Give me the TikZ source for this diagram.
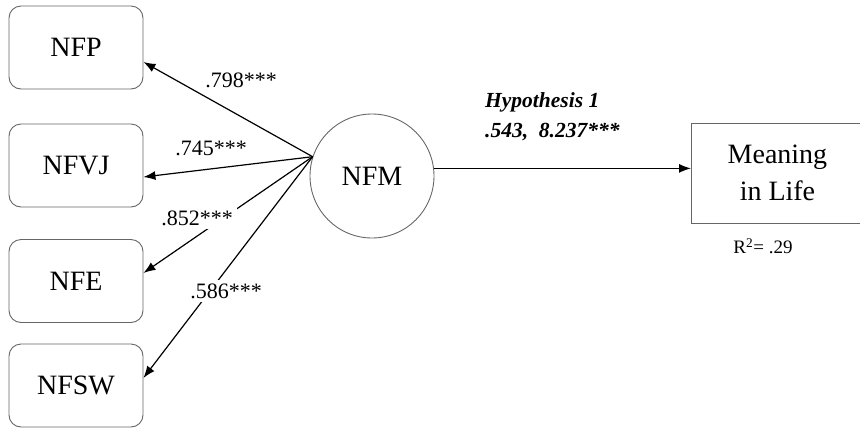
\documentclass[tikz,border=0pt]{standalone}
\usepackage{fontspec}
\setmainfont{Liberation Serif}
\usetikzlibrary{arrows.meta}

\definecolor{boxgray}{rgb}{0.4,0.4,0.4}

\begin{document}
\begin{tikzpicture}[x=1pt,y=-1pt,>={Latex[length=12pt,width=9pt]},
	box/.style={draw=boxgray,line width=0.9pt,rounded corners=12pt,minimum width=134pt,minimum height=83pt,font=\fontsize{28}{32}\selectfont},
	coef/.style={fill=white,inner sep=4pt,font=\fontsize{22}{24}\selectfont},
	hypo/.style={anchor=base west,inner sep=0pt,font=\bfseries\itshape\fontsize{21.5}{24}\selectfont}]

	\useasboundingbox (0,0) rectangle (860,429);

	\node[box] at (76,47.5) (nfp) {NFP};
	\node[box] at (76,165.5) (nfvj) {NFVJ};
	\node[box] at (76,281) (nfe) {NFE};
	\node[box] at (76,385.5) (nfsw) {NFSW};

	\node[draw=boxgray,line width=0.9pt,circle,minimum size=124pt,font=\fontsize{28}{32}\selectfont] at (372,176) (nfm) {NFM};

	\node[draw=boxgray,line width=0.9pt,anchor=west,minimum width=172pt,minimum height=100pt,align=center,font=\fontsize{28}{37}\selectfont] at (691,173) (mil) {Meaning\\in Life};

	\coordinate (hub) at (nfm.162);

	\draw[line width=1.2pt,->] (hub) to ([yshift=-14.5pt]nfp.east);
	\draw[line width=1.2pt,->] (hub) to ([yshift=-11.5pt]nfvj.east);
	\draw[line width=1.2pt,->] (hub) to ([yshift=8pt]nfe.east);
	\draw[line width=1.2pt,->] (hub) to ([yshift=7.5pt]nfsw.east);

	\draw[line width=1.2pt,->] (nfm.7) to (nfm.7 -| mil.west);

	\node[coef] at (241,80) (c1) {.798***};
	\node[coef] at (211,148) (c2) {.745***};
	\node[coef] at (197,218) (c3) {.852***};
	\node[coef] at (226,291) (c4) {.586***};

	\node[hypo] at (485,107) (hyp) {Hypothesis 1};
	\node[hypo] at (485,137) (est) {.543,\ \ 8.237***};

	\node[font=\fontsize{19}{22}\selectfont] at (763,246) (rsq) {R\textsuperscript{2}= .29};
\end{tikzpicture}
\end{document}
